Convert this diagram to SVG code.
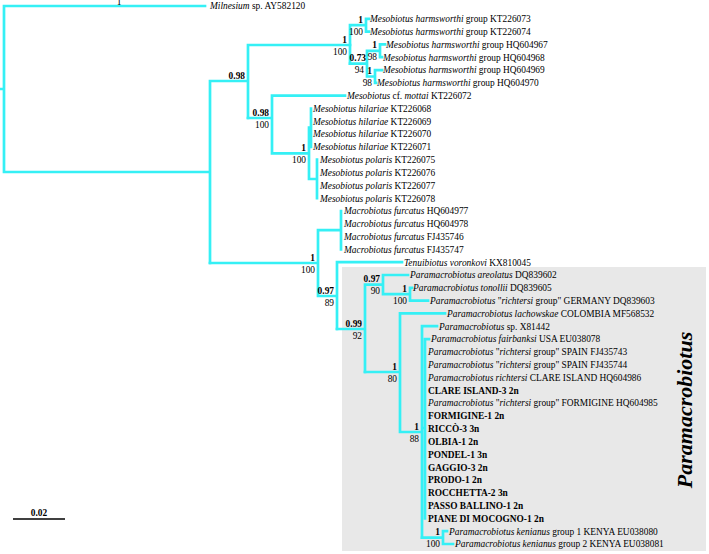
<svg xmlns="http://www.w3.org/2000/svg" width="709" height="554" viewBox="0 0 709 554">
<style>
.e{stroke:#35f0f5;stroke-width:2.7;fill:none;stroke-linecap:square}
text{font-family:"Liberation Serif","Times New Roman",serif;font-size:9.4px;fill:#000}
.i{font-style:italic}
.b{font-weight:bold}
.s{text-anchor:end}
.clade{font-size:22px;font-weight:bold;font-style:italic;text-anchor:middle}
</style>
<rect id="clade-box" x="342" y="267" width="364" height="284" fill="#e8e8e8"/>
<g id="connectors" class="e">
<path d="M0,89H4M4,6V172M4,6H205M4,172H210M210,81V263M210,81H248M248,45V118M248,45H350"/>
<path d="M350,25.2V63.6M350,25.2H366M366,18.8V31.6M366,18.8H369M366,31.6H369"/>
<path d="M350,63.6H367M367,50.8V76.5M367,50.8H380M380,44.4V57.2M380,44.4H385M380,57.2H382M367,76.5H375M375,70.1V82.9M375,70.1H382M375,82.9H376"/>
<path d="M248,118H272M272,95.7V153.3M272,95.7H345M272,153.3H309M309,127.7V179M309,127.7H311M311,108.5V146.9M317,159.7V198.2M309,179H317"/>
<path d="M210,263H318M318,230.2V296M318,230.2H341M341,211V249.4M318,296H337M337,262.2V329M337,262.2H402"/>
<path d="M337,329H365M365,284.6V372M365,284.6H383M383,275V294.2M383,275H408M383,294.2H410M410,287.8V300.6M410,287.8H412M410,300.6H428"/>
<path d="M365,372H400M400,313.4V432M400,313.4H445M400,432H422M422,326.2V537.6M422,326.2H437M422,428H425M425,339.1V518.4M425,339.1H429"/>
<path d="M422,537.6H443M443,531.2V544M443,531.2H447M443,544H453"/>
</g>
<g id="support">
<text x="119" y="4.5" text-anchor="middle">1</text>
<text class="s b" x="347" y="42.5">1</text><text class="s" x="347" y="54.5">100</text>
<text class="s b" x="363" y="22.7">1</text><text class="s" x="363" y="34.7">100</text>
<text class="s b" x="366" y="61.1">0.73</text><text class="s" x="364" y="73.1">94</text>
<text class="s b" x="377" y="48.3">1</text><text class="s" x="377" y="60.3">98</text>
<text class="s b" x="372" y="74">1</text><text class="s" x="372" y="86">98</text>
<text class="s b" x="245" y="78.5">0.98</text>
<text class="s b" x="269" y="115.5">0.98</text><text class="s" x="269" y="127.5">100</text>
<text class="s b" x="306" y="150.8">1</text><text class="s" x="306" y="162.8">100</text>
<text class="s b" x="315" y="260.5">1</text><text class="s" x="315" y="272.5">100</text>
<text class="s b" x="334" y="293.5">0.97</text><text class="s" x="334" y="305.5">89</text>
<text class="s b" x="362" y="326.5">0.99</text><text class="s" x="362" y="338.5">92</text>
<text class="s b" x="380" y="282.1">0.97</text><text class="s" x="380" y="294.1">90</text>
<text class="s b" x="407" y="291.7">1</text><text class="s" x="407" y="303.7">100</text>
<text class="s b" x="397" y="369.5">1</text><text class="s" x="397" y="381.5">80</text>
<text class="s b" x="419" y="429.5">1</text><text class="s" x="419" y="441.5">88</text>
<text class="s b" x="440" y="535.1">1</text><text class="s" x="440" y="547.1">100</text>
</g>
<g id="n0"><text x="210" y="9.3"><tspan class="i">Milnesium</tspan> sp. AY582120</text></g>
<g id="n1"><text x="370" y="22.1"><tspan class="i">Mesobiotus harmsworthi</tspan> group KT226073</text></g>
<g id="n2"><text x="370" y="34.9"><tspan class="i">Mesobiotus harmsworthi</tspan> group KT226074</text></g>
<g id="n3"><text x="386" y="47.7"><tspan class="i">Mesobiotus harmsworthi</tspan> group HQ604967</text></g>
<g id="n4"><text x="383" y="60.5"><tspan class="i">Mesobiotus harmsworthi</tspan> group HQ604968</text></g>
<g id="n5"><text x="383" y="73.4"><tspan class="i">Mesobiotus harmsworthi</tspan> group HQ604969</text></g>
<g id="n6"><text x="377" y="86.2"><tspan class="i">Mesobiotus harmsworthi</tspan> group HQ604970</text></g>
<g id="n7"><text x="347" y="99"><tspan class="i">Mesobiotus</tspan> cf. <tspan class="i">mottai</tspan> KT226072</text></g>
<g id="n8"><text x="313" y="111.8"><tspan class="i">Mesobiotus hilariae</tspan> KT226068</text></g>
<g id="n9"><text x="313" y="124.6"><tspan class="i">Mesobiotus hilariae</tspan> KT226069</text></g>
<g id="n10"><text x="313" y="137.4"><tspan class="i">Mesobiotus hilariae</tspan> KT226070</text></g>
<g id="n11"><text x="313" y="150.2"><tspan class="i">Mesobiotus hilariae</tspan> KT226071</text></g>
<g id="n12"><text x="320" y="163"><tspan class="i">Mesobiotus polaris</tspan> KT226075</text></g>
<g id="n13"><text x="320" y="175.8"><tspan class="i">Mesobiotus polaris</tspan> KT226076</text></g>
<g id="n14"><text x="320" y="188.6"><tspan class="i">Mesobiotus polaris</tspan> KT226077</text></g>
<g id="n15"><text x="320" y="201.5"><tspan class="i">Mesobiotus polaris</tspan> KT226078</text></g>
<g id="n16"><text x="344" y="214.3"><tspan class="i">Macrobiotus furcatus</tspan> HQ604977</text></g>
<g id="n17"><text x="344" y="227.1"><tspan class="i">Macrobiotus furcatus</tspan> HQ604978</text></g>
<g id="n18"><text x="344" y="239.9"><tspan class="i">Macrobiotus furcatus</tspan> FJ435746</text></g>
<g id="n19"><text x="344" y="252.7"><tspan class="i">Macrobiotus furcatus</tspan> FJ435747</text></g>
<g id="n20"><text x="404" y="265.5"><tspan class="i">Tenuibiotus voronkovi</tspan> KX810045</text></g>
<g id="n21"><text x="410" y="278.3"><tspan class="i">Paramacrobiotus areolatus</tspan> DQ839602</text></g>
<g id="n22"><text x="413" y="291.1"><tspan class="i">Paramacrobiotus tonollii</tspan> DQ839605</text></g>
<g id="n23"><text x="430" y="303.9"><tspan class="i">Paramacrobiotus</tspan> "<tspan class="i">richtersi</tspan> group" GERMANY DQ839603</text></g>
<g id="n24"><text x="447" y="316.7"><tspan class="i">Paramacrobiotus lachowskae</tspan> COLOMBIA MF568532</text></g>
<g id="n25"><text x="439" y="329.5"><tspan class="i">Paramacrobiotus</tspan> sp. X81442</text></g>
<g id="n26"><text x="431" y="342.4"><tspan class="i">Paramacrobiotus fairbanksi</tspan> USA EU038078</text></g>
<g id="n27"><text x="428" y="355.2"><tspan class="i">Paramacrobiotus</tspan> "<tspan class="i">richtersi</tspan> group" SPAIN FJ435743</text></g>
<g id="n28"><text x="428" y="368"><tspan class="i">Paramacrobiotus</tspan> "<tspan class="i">richtersi</tspan> group" SPAIN FJ435744</text></g>
<g id="n29"><text x="428" y="380.8"><tspan class="i">Paramacrobiotus richtersi</tspan> CLARE ISLAND HQ604986</text></g>
<g id="n30"><text class="b" x="428" y="393.6">CLARE ISLAND-3 2n</text></g>
<g id="n31"><text x="428" y="406.4"><tspan class="i">Paramacrobiotus</tspan> "<tspan class="i">richtersi</tspan> group" FORMIGINE HQ604985</text></g>
<g id="n32"><text class="b" x="428" y="419.2">FORMIGINE-1 2n</text></g>
<g id="n33"><text class="b" x="428" y="432">RICCÒ-3 3n</text></g>
<g id="n34"><text class="b" x="428" y="444.8">OLBIA-1 2n</text></g>
<g id="n35"><text class="b" x="428" y="457.7">PONDEL-1 3n</text></g>
<g id="n36"><text class="b" x="428" y="470.5">GAGGIO-3 2n</text></g>
<g id="n37"><text class="b" x="428" y="483.3">PRODO-1 2n</text></g>
<g id="n38"><text class="b" x="428" y="496.1">ROCCHETTA-2 3n</text></g>
<g id="n39"><text class="b" x="428" y="508.9">PASSO BALLINO-1 2n</text></g>
<g id="n40"><text class="b" x="428" y="521.7">PIANE DI MOCOGNO-1 2n</text></g>
<g id="n41"><text x="449" y="534.5"><tspan class="i">Paramacrobiotus kenianus</tspan> group 1 KENYA EU038080</text></g>
<g id="n42"><text x="455" y="547.3"><tspan class="i">Paramacrobiotus kenianus</tspan> group 2 KENYA EU038081</text></g>
<g id="clade-label"><text class="clade" transform="translate(692,410) rotate(-90)">Paramacrobiotus</text></g>
<g id="scale-bar"><path d="M13,519H65" stroke="#000" stroke-width="1.6"/><text class="b" x="39" y="515.5" text-anchor="middle">0.02</text></g>
</svg>
